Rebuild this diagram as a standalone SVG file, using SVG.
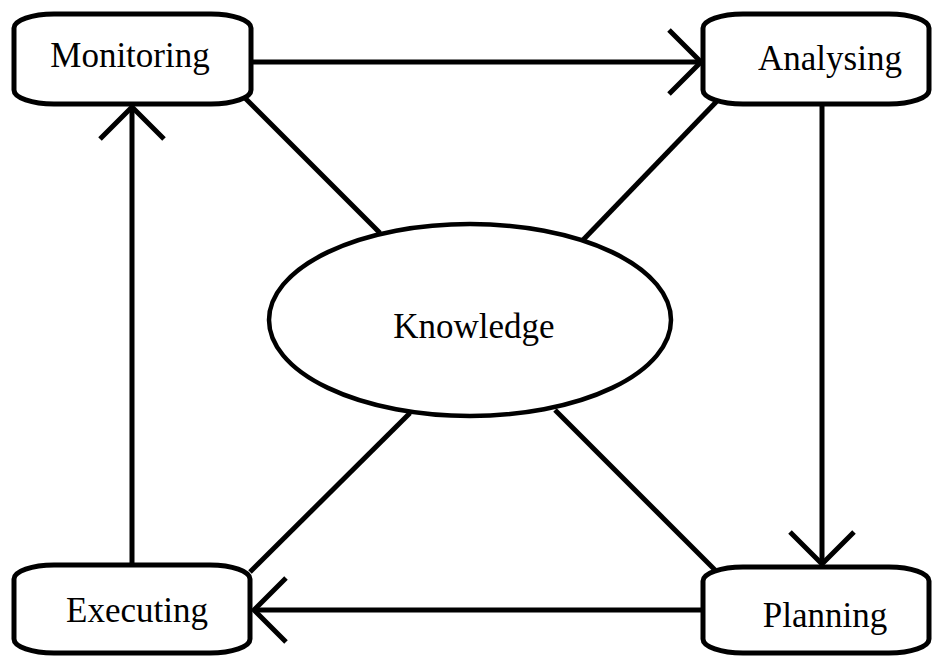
<svg xmlns="http://www.w3.org/2000/svg" width="933" height="656" viewBox="0 0 933 656">
<style>
.box{fill:#fff;stroke:#000;stroke-width:5}
.lbl{font-family:"Liberation Serif","Times New Roman",serif;font-size:35px;fill:#000;text-anchor:middle}
.ln{stroke:#000;stroke-width:5;fill:none}
.ah{stroke:#000;stroke-width:5;fill:none;stroke-linejoin:miter}
</style>
<rect width="933" height="656" fill="#fff"/>
<g id="connectors">
<line class="ln" x1="251" y1="62" x2="701" y2="62"/>
<polyline class="ah" points="669,30 701,62 669,94"/>
<line class="ln" x1="822" y1="104" x2="822" y2="564"/>
<polyline class="ah" points="790,532 822,564 854,532"/>
<line class="ln" x1="703" y1="610" x2="254" y2="610"/>
<polyline class="ah" points="286,578 254,610 286,642"/>
<line class="ln" x1="132" y1="565" x2="132" y2="107"/>
<polyline class="ah" points="100,139 132,107 164,139"/>
<line class="ln" x1="245" y1="98" x2="380" y2="233"/>
<line class="ln" x1="718" y1="100" x2="583" y2="240"/>
<line class="ln" x1="410" y1="413" x2="250" y2="572"/>
<line class="ln" x1="555" y1="410" x2="715" y2="570"/>
</g>
<g id="monitoring">
<rect class="box" x="14" y="14" width="237" height="90" rx="40" ry="14"/>
<text class="lbl" x="130" y="67">Monitoring</text>
</g>
<g id="analysing">
<rect class="box" x="703" y="14" width="226" height="90" rx="40" ry="14"/>
<text class="lbl" x="830" y="70">Analysing</text>
</g>
<g id="executing">
<rect class="box" x="14" y="565" width="236" height="88" rx="40" ry="14"/>
<text class="lbl" x="137" y="622">Executing</text>
</g>
<g id="planning">
<rect class="box" x="703" y="567" width="226" height="86" rx="40" ry="14"/>
<text class="lbl" x="825" y="627">Planning</text>
</g>
<g id="knowledge">
<ellipse cx="470" cy="320" rx="201" ry="96" fill="#fff" stroke="#000" stroke-width="4.5"/>
<text class="lbl" x="474" y="338">Knowledge</text>
</g>
</svg>
